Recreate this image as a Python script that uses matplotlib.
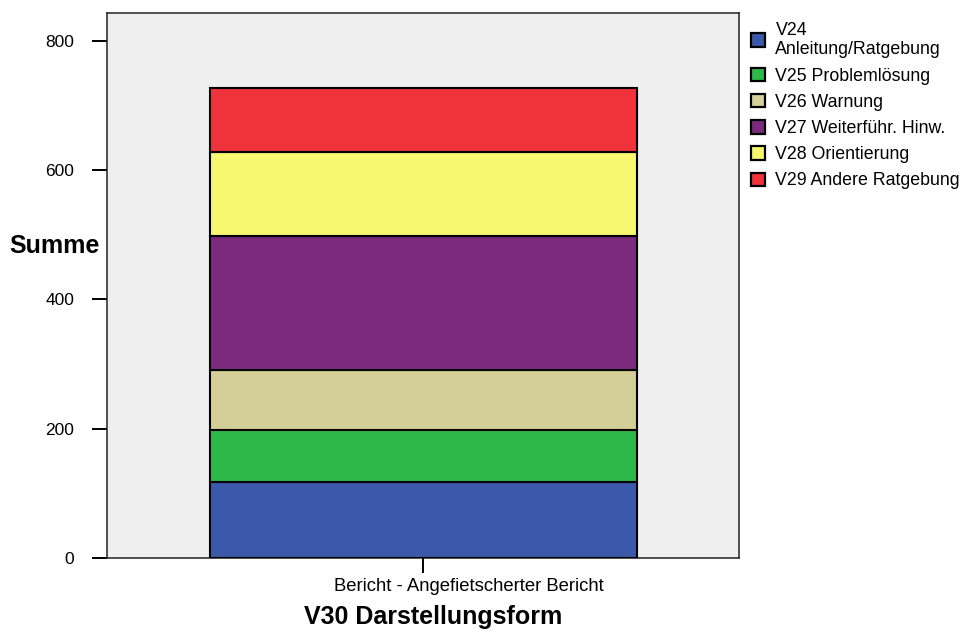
import matplotlib.pyplot as plt
import matplotlib.transforms as mtrans
from matplotlib.patches import Patch

plt.rcParams['font.family'] = ['Liberation Sans', 'DejaVu Sans']

category = ["Bericht - Angefietscherter Bericht"]
series = ["V24\nAnleitung/Ratgebung", "V25 Problemlösung", "V26 Warnung",
          "V27 Weiterführ. Hinw.", "V28 Orientierung", "V29 Andere Ratgebung"]
values = [118, 80, 93, 207, 130, 99]
colors = ["#3C58A8", "#2EB84A", "#D4CF98", "#7B2A7C", "#F8F870", "#F0323A"]
yticks = [0, 200, 400, 600, 800]

fig = plt.figure(figsize=(9.68, 6.33), dpi=100)
ax = fig.add_axes([0.1105, 0.1185, 0.6529, 0.861])
ax.set_facecolor("#EFEFEF")

bottom = 0
for val, col in zip(values, colors):
    ax.bar(0, val, width=1.0, bottom=bottom, color=col, edgecolor="black",
           linewidth=1.5, zorder=3)
    bottom += val

ax.set_xlim(-0.741, 0.739)
ax.set_ylim(0, 843)
ax.set_yticks(yticks)
ax.set_yticklabels([str(t) for t in yticks], fontsize=12.5)
ax.set_xticks([0])
ax.set_xticklabels(category, fontsize=13.3)
ax.tick_params(axis='both', length=10.5, width=1.4, color="black")
ax.tick_params(axis='y', pad=13)
ax.tick_params(axis='x', pad=4)

# the category label sits a bit right of its tick in the original
shift = mtrans.ScaledTranslation(0.45, 0, fig.dpi_scale_trans)
for lbl in ax.get_xticklabels():
    lbl.set_transform(lbl.get_transform() + shift)

for s in ax.spines.values():
    s.set_color("#222222")
    s.set_linewidth(1.1)

fig.text(0.010, 1 - 246 / 633, "Summe", fontsize=18, fontweight="bold",
         ha="left", va="center")
fig.text(433 / 968, 1 - 617 / 633, "V30 Darstellungsform", fontsize=18,
         fontweight="bold", ha="center", va="center")

handles = [Patch(facecolor=c, edgecolor="black", linewidth=1.6) for c in colors]
fig.legend(handles, series, loc="upper left", bbox_to_anchor=(0.768, 0.977),
           frameon=False, fontsize=12.8, handlelength=0.8, handleheight=0.8,
           handletextpad=0.6, labelspacing=0.52, borderaxespad=0)

fig.savefig("out.png", dpi=100)
